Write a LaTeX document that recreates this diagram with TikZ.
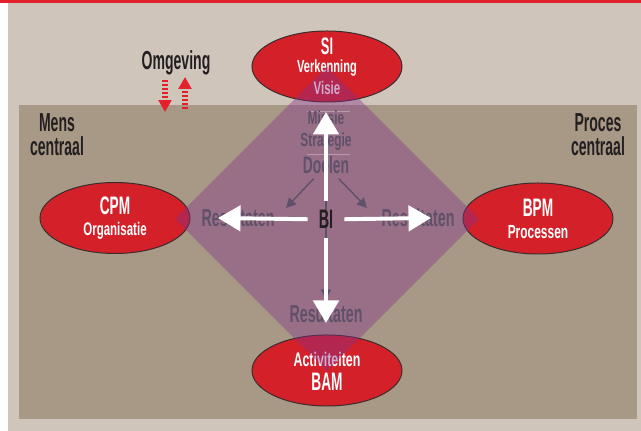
\documentclass[tikz,border=0pt]{standalone}
\usepackage{fontspec}
\usepackage{tikz}
\usetikzlibrary{shapes.geometric,arrows.meta}
\newfontfamily\gothw[FakeStretch=0.54]{Liberation Sans}
\newfontfamily\gothm[FakeStretch=0.58]{Liberation Sans}
\newfontfamily\gothn[FakeStretch=0.63]{Liberation Sans}
\definecolor{bandred}{HTML}{E2212D}
\definecolor{paper}{HTML}{CFC5BA}
\definecolor{field}{HTML}{A89886}
\definecolor{ovalred}{HTML}{D32029}
\definecolor{ovalline}{HTML}{3A2C2C}
\definecolor{prism}{HTML}{84308A}
\definecolor{inkgrey}{HTML}{5F5169}
\definecolor{inkdark}{HTML}{231F20}

\begin{document}
\begin{tikzpicture}[x=0.025cm,y=-0.025cm]
\tikzstyle{Oval}=[ellipse,draw=ovalline,line width=0.7pt,fill=ovalred,minimum width=3.75cm,minimum height=1.775cm,inner sep=0pt]
\tikzstyle{Word}=[anchor=base,inner sep=0pt]
\tikzstyle{Head}=[Word,text=inkdark,font=\gothw\bfseries\fontsize{18.5}{18.5}\selectfont]
\tikzstyle{OvalBig}=[Word,text=white,font=\gothw\bfseries\fontsize{18}{18}\selectfont]
\tikzstyle{OvalSmall}=[Word,text=white,font=\gothn\bfseries\fontsize{13}{13}\selectfont]
\tikzstyle{Phase}=[Word,text=inkgrey,font=\gothm\bfseries\fontsize{17.5}{17.5}\selectfont]
\tikzstyle{PhaseSmall}=[Word,text=inkgrey,font=\gothn\bfseries\fontsize{13.5}{13.5}\selectfont]
\tikzstyle{WhiteArrow}=[white,line width=2.8pt,-{Triangle[length=16pt,width=18pt]}]
\tikzstyle{GreyArrow}=[inkgrey,line width=1pt,-{Triangle[length=7pt,width=7pt]}]
\tikzstyle{RedArrow}=[bandred,line width=4.3pt,dash pattern=on 1.4pt off 1.4pt,-{Triangle[length=8.5pt,width=9pt]}]

\useasboundingbox (0,0) rectangle (641,431);
\fill[white] (0,0) rectangle (641,431);
\fill[bandred] (0,0) rectangle (641,3.5);
\fill[paper] (8,3.5) rectangle (641,431);
\fill[field] (19,105) rectangle (637,419);

\node[Head] (omg) at (176,70) {Omgeving};
\node[Head] (mens) at (57,132) {Mens};
\node[Head] (mensc) at (57,156) {centraal};
\node[Head] (proc) at (598,132) {Proces};
\node[Head] (procc) at (598,156) {centraal};

\coordinate (oa1) at (165,80);
\coordinate (oa2) at (165,112);
\coordinate (ob1) at (185,109);
\coordinate (ob2) at (185,77);
\draw[RedArrow] (oa1) -- (oa2);
\draw[RedArrow] (ob1) -- (ob2);

\node[Oval] (si) at (327,66.5) {};
\node[Oval] (cpm) at (115,218) {};
\node[Oval] (bpm) at (538,218.5) {};
\node[Oval] (bam) at (327,370.5) {};

\node[OvalBig,font=\gothw\bfseries\fontsize{17}{17}\selectfont] (sit) at (327,55) {SI};
\node[OvalSmall,font=\gothn\bfseries\fontsize{12.5}{12.5}\selectfont] (verk) at (327,73) {Verkenning};
\node[OvalSmall] (visie) at (327,95) {Visie};
\node[OvalBig] (cpmt) at (115,215) {CPM};
\node[OvalSmall] (org) at (115,236) {Organisatie};
\node[OvalBig] (bpmt) at (538,217) {BPM};
\node[OvalSmall,font=\gothn\bfseries\fontsize{13.5}{13.5}\selectfont] (pros) at (538,239) {Processen};
\node[OvalSmall,font=\gothn\bfseries\fontsize{14}{14}\selectfont] (act) at (327,367) {Activiteiten};
\node[OvalBig] (bamt) at (327,391) {BAM};

\fill[prism,fill opacity=0.4] (327,67) -- (479,219) -- (327,371) -- (175,219) -- cycle;
\draw[white,opacity=0.3,line width=0.4pt] (307,111) -- (350,111);
\draw[white,opacity=0.3,line width=0.4pt] (307,154) -- (350,154);

\node[PhaseSmall] (mis) at (326,125) {Missie};
\node[PhaseSmall] (strat) at (326,147) {Strategie};
\node[Phase,font=\gothm\bfseries\fontsize{17}{17}\selectfont] (doel) at (326,174) {Doelen};
\node[Phase] (resl) at (238,227) {Resultaten};
\node[Phase] (resr) at (418,227) {Resultaten};
\node[Phase] (resb) at (326,323) {Resultaten};

\coordinate (dl) at (286,208);
\coordinate (dr) at (367,208);
\draw[GreyArrow,shorten <=4pt] (doel) -- (dl);
\draw[GreyArrow,shorten <=4pt] (doel) -- (dr);
\draw[GreyArrow,shorten >=4pt] (doel) -- (resb);

\node[circle,minimum size=0.9cm,inner sep=0pt,text=inkdark,font=\gothw\bfseries\fontsize{19}{19}\selectfont] (bi) at (326,219.5) {BI};
\coordinate (tn) at (326,112);
\coordinate (tw) at (218,218);
\coordinate (te) at (431,218);
\coordinate (ts) at (326,323);
\draw[WhiteArrow] (bi) -- (tn);
\draw[WhiteArrow] (bi) -- (tw);
\draw[WhiteArrow] (bi) -- (te);
\draw[WhiteArrow] (bi) -- (ts);
\end{tikzpicture}
\end{document}
